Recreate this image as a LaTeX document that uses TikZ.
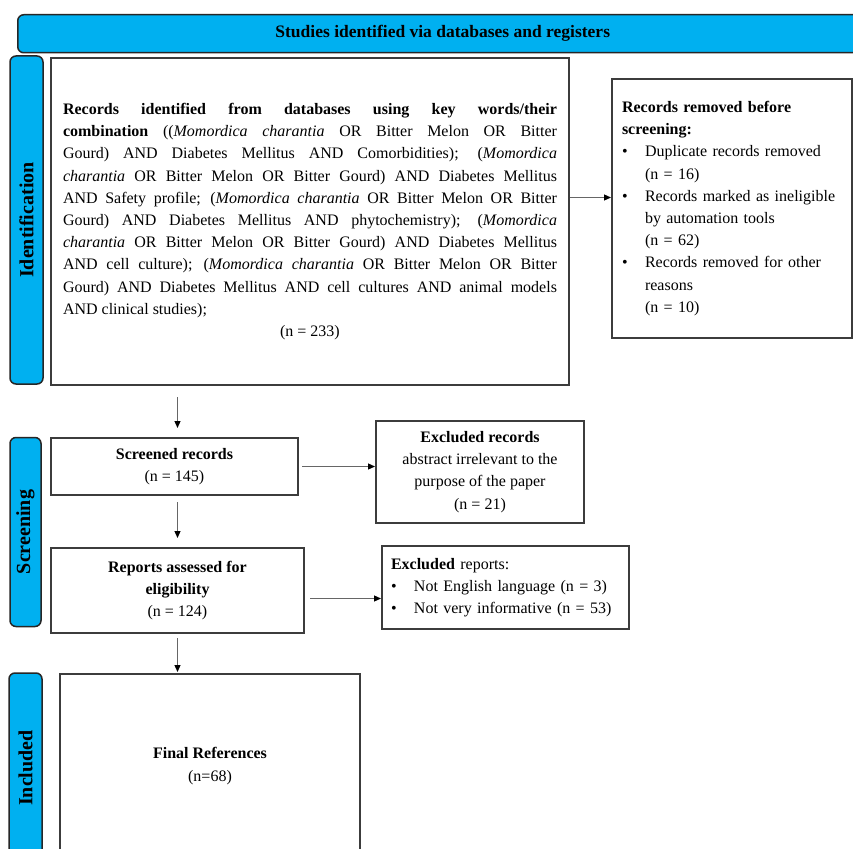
\documentclass[tikz,border=0pt]{standalone}
\usepackage{fontspec}
\setmainfont{Liberation Serif}
\usetikzlibrary{arrows.meta}
\definecolor{barblue}{RGB}{0,176,240}
\definecolor{edgegray}{RGB}{60,60,60}
\newcommand{\bitem}[1]{\par\hangindent=23pt\hangafter=1\noindent\makebox[23pt][l]{\textbullet}#1\par}

\begin{document}
\begin{tikzpicture}
  [x=1pt,y=-1pt,font=\fontsize{16}{22.2}\selectfont,
   box/.style={draw=edgegray,line width=2pt,fill=white,inner sep=0pt},
   bar/.style={draw=black!85,line width=1.5pt,fill=barblue,rounded corners=6pt,
     inner sep=0pt,font=\fontsize{20}{22}\selectfont\bfseries},
   arr/.style={draw=black!60,line width=1.2pt,
     -{Triangle[length=7pt,width=6pt,color=black]}}]
  \clip (0,0) rectangle (853,848);
  \fill[white] (0,0) rectangle (853,848);

  % phase bars
  \node[bar,anchor=north west,minimum width=850,minimum height=38,
    font=\fontsize{17.5}{20}\selectfont\bfseries] (nstudy) at (17,14)
    {Studies identified via databases and registers};
  \node[bar,rotate=90,minimum width=328,minimum height=33] (nid) at (26.5,220) {Identification};
  \node[bar,rotate=90,minimum width=189,minimum height=31] (nscr) at (25.5,532) {Screening};
  \node[bar,rotate=90,minimum width=190,minimum height=33] (ninc) at (25.5,768) {Included};

  % boxes
  \node[box,anchor=north west,minimum width=518,minimum height=327,text width=494,
    align=justify] (nmain) at (50,57)
    {\hyphenpenalty=10000\textbf{Records identified from databases using key words/their}\linebreak
     \textbf{combination} ((\textit{Momordica charantia} OR Bitter Melon OR Bitter\linebreak
     Gourd) AND Diabetes Mellitus AND Comorbidities); (\textit{Momordica}\linebreak
     \textit{charantia} OR Bitter Melon OR Bitter Gourd) AND Diabetes Mellitus\linebreak
     AND Safety profile; (\textit{Momordica charantia} OR Bitter Melon OR Bitter\linebreak
     Gourd) AND Diabetes Mellitus AND phytochemistry); (\textit{Momordica}\linebreak
     \textit{charantia} OR Bitter Melon OR Bitter Gourd) AND Diabetes Mellitus\linebreak
     AND cell culture); (\textit{Momordica charantia} OR Bitter Melon OR Bitter\linebreak
     Gourd) AND Diabetes Mellitus AND cell cultures AND animal models\linebreak
     AND clinical studies);\par\noindent\makebox[\linewidth]{(n = 233)}};
  \node[box,anchor=north west,minimum width=240,minimum height=259,text width=220,
    align=left] (nremoved) at (611,78)
    {\textbf{Records removed before}\\\textbf{screening:}
     \bitem{Duplicate records removed\newline(n = 16)}
     \bitem{Records marked as ineligible\newline by automation tools\newline(n = 62)}
     \bitem{Records removed for other\newline reasons\newline(n = 10)}};
  \node[box,anchor=north west,minimum width=247,minimum height=57,align=center] (nscreen)
    at (50,437) {\textbf{Screened records}\\(n = 145)};
  \node[box,anchor=north west,minimum width=208,minimum height=102,align=center] (nexrec)
    at (375,420) {\textbf{Excluded records}\\abstract irrelevant to the\\purpose of the paper\\(n = 21)};
  \node[box,anchor=north west,minimum width=253,minimum height=85,align=center] (nreport)
    at (50,547) {\textbf{Reports assessed for}\\\textbf{eligibility}\\(n = 124)};
  \node[box,anchor=north west,minimum width=247,minimum height=83,text width=229,
    align=left] (nexrep) at (381,545)
    {\textbf{Excluded} reports:
     \bitem{Not English language (n = 3)}
     \bitem{Not very informative (n = 53)}};
  \node[box,anchor=north west,minimum width=300,minimum height=184,align=center] (nfinal)
    at (59,673) {\textbf{Final References}\\(n=68)};

  % connectors
  \draw[arr] ([yshift=24pt]nmain.east) -- ([yshift=24pt]nmain.east -| nremoved.west);
  \draw[arr,shorten <=3pt] (nscreen.east) -- (nscreen.east -| nexrec.west);
  \draw[arr,shorten <=5pt] ([yshift=-8pt]nreport.east) -- ([yshift=-8pt]nreport.east -| nexrep.west);
  \foreach \from/\to/\a/\b in {nmain/nscreen/11/9,nscreen/nreport/6/9,nreport/nfinal/4/1}
    \draw[arr,shorten <=\a pt,shorten >=\b pt] (\from.south -| nreport.north) -- (\to.north -| nreport.north);
\end{tikzpicture}
\end{document}
